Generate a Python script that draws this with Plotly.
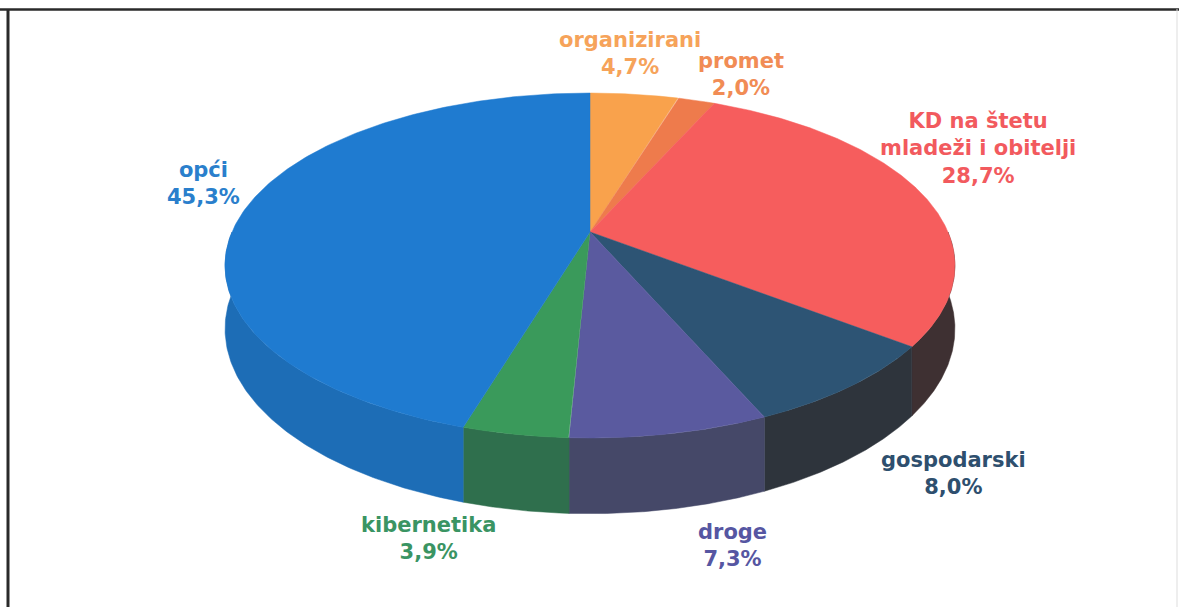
import numpy as np
import plotly.graph_objects as go

# ---- data ----
categories = ["organizirani", "promet", "KD na štetu<br>mladeži i obitelji",
              "gospodarski", "droge", "kibernetika", "opći"]
values = [4.7, 2.0, 28.7, 8.0, 7.3, 3.9, 45.3]

# ---- styles ----
top_colors = ["#F9A24C", "#EE7B4C", "#F65D5D", "#2D5474", "#5A5A9F", "#3A9A5B", "#1F7BD0"]
side_colors = ["#C27A3C", "#B45C3C", "#3E3032", "#2E343C", "#454868", "#2F6F4D", "#1D6DB6"]
label_colors = ["#F6A35A", "#F18C55", "#F25A5E", "#2E4F6E", "#5656A2", "#3A9463", "#2A7FCC"]
# label anchor (name centre x, name centre y) in px
label_pos = [(630, 38), (741, 59), (978, 117), (953, 458), (732, 530), (428, 523), (203, 168)]
line_gap = 31

W, H = 1179, 607
# projection of a tilted disk (perspective)
CX, CY, A, B, C, G = 590.0, 265.5, 358.0, 172.5, 33.5, 0.1942
D0 = 61.0


def proj(theta_deg):
    t = np.radians(theta_deg)
    u, v = np.sin(t), np.cos(t)
    d = 1 + G * v
    return CX + A * u / d, CY - (B * v + C) / d, D0 / d


fig = go.Figure()
total = sum(values)
bounds = np.concatenate([[0], np.cumsum(values) / total * 360])

# sides (front half only)
for i in range(len(values)):
    a0, a1 = max(bounds[i], 90), min(bounds[i + 1], 270)
    if a1 <= a0:
        continue
    th = np.linspace(a0, a1, 120)
    x, y, dp = proj(th)
    xs = np.concatenate([x, x[::-1], [x[0]]])
    ys = np.concatenate([y, (y + dp)[::-1], [y[0]]])
    fig.add_trace(go.Scatter(x=xs, y=ys, mode="lines", fill="toself",
                             fillcolor=side_colors[i], line=dict(width=0.5, color=side_colors[i]),
                             hoverinfo="skip"))

# top faces
for i in range(len(values)):
    th = np.linspace(bounds[i], bounds[i + 1], 200)
    x, y, _ = proj(th)
    xs = np.concatenate([[CX], x, [CX]])
    ys = np.concatenate([[CY - C], y, [CY - C]])
    fig.add_trace(go.Scatter(x=xs, y=ys, mode="lines", fill="toself",
                             fillcolor=top_colors[i], line=dict(width=0.5, color=top_colors[i]),
                             hoverinfo="skip"))

# labels
for i, (name, val) in enumerate(zip(categories, values)):
    px, py = label_pos[i]
    pct = f"{val:.1f}".replace(".", ",") + "%"
    nlines = name.count("<br>") + 1
    txt = "<b>" + name + "<br>" + pct + "</b>"
    yc = py + nlines * line_gap / 2
    fig.add_annotation(x=px, y=yc, text=txt, showarrow=False,
                       font=dict(family="DejaVu Sans, Verdana, sans-serif", size=21,
                                 color=label_colors[i]),
                       xanchor="center", yanchor="middle", align="center")

# frame
fig.add_shape(type="line", x0=0, x1=W, y0=9.5, y1=9.5, line=dict(color="#2A2A2A", width=2.5))
fig.add_shape(type="line", x0=8, x1=8, y0=9, y1=H, line=dict(color="#2A2A2A", width=3))
fig.add_shape(type="line", x0=1177, x1=1177, y0=9, y1=H, line=dict(color="#DDDDDD", width=1))

fig.update_layout(
    width=W, height=H, margin=dict(l=0, r=0, t=0, b=0),
    paper_bgcolor="white", plot_bgcolor="white", showlegend=False,
    xaxis=dict(range=[0, W], visible=False, fixedrange=True),
    yaxis=dict(range=[H, 0], visible=False, fixedrange=True),
    hovermode=False,
)
fig.write_html("out.html", config={"displayModeBar": False},
               post_script="document.body.style.margin='0';document.body.style.padding='0';"
                           "document.body.style.overflow='hidden';")
